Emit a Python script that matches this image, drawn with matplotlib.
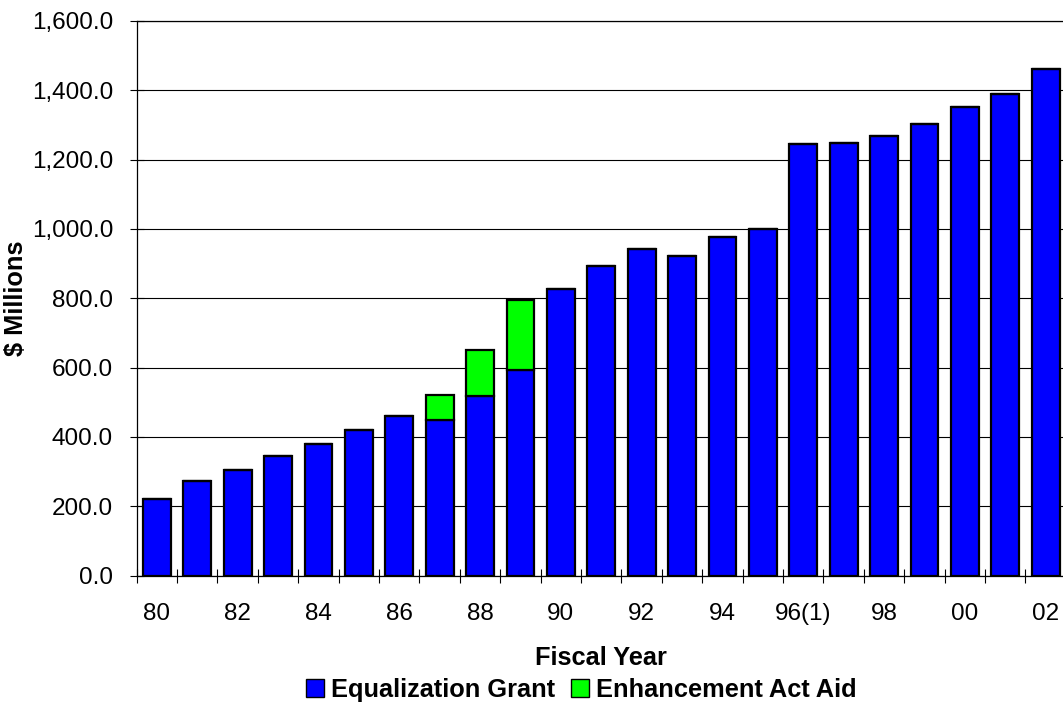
import numpy as np
import matplotlib
matplotlib.use("Agg")
import matplotlib.pyplot as plt
from matplotlib.patches import Patch
from matplotlib.ticker import FuncFormatter

plt.rcParams['font.family'] = ['Liberation Sans', 'DejaVu Sans']

years = ['80', '81', '82', '83', '84', '85', '86', '87', '88', '89', '90', '91',
         '92', '93', '94', '95', '96(1)', '97', '98', '99', '00', '01', '02']
equalization = [220, 273, 306, 344, 379, 421, 461, 450, 518, 593, 827, 893,
                943, 921, 976, 1000, 1245, 1249, 1267, 1302, 1353, 1390, 1462]
enhancement = [0, 0, 0, 0, 0, 0, 0, 71, 133, 203, 0, 0,
               0, 0, 0, 0, 0, 0, 0, 0, 0, 0, 0]

fs = 17.5
fsb = 18.3
fig = plt.figure(figsize=(10.63, 7.04), dpi=100)
ax = fig.add_axes([0.1286, 0.1823, 0.8741, 0.788])

x = np.arange(len(years))
w = 0.69
ax.bar(x, equalization, width=w, color='#0000FF', edgecolor='black', linewidth=1.6, zorder=3)
ax.bar(x, enhancement, width=w, bottom=equalization, color='#00FF00', edgecolor='black',
       linewidth=1.6, zorder=3)

ax.set_xlim(-0.5, len(years) - 0.5)
ax.set_ylim(0, 1600)
ax.set_yticks(np.arange(0, 1601, 200))
ax.yaxis.set_major_formatter(FuncFormatter(lambda v, p: f'{v:,.1f}'))
ax.grid(axis='y', color='black', linewidth=0.8, zorder=0)

# ticks at category boundaries, labels on every other category
ax.set_xticks(np.arange(-0.5, len(years), 1))
ax.set_xticklabels([])
ax.set_xticks(x[::2], minor=True)
ax.set_xticklabels(years[::2], minor=True)
ax.tick_params(axis='x', which='major', direction='inout', length=10, width=0.8)
ax.tick_params(axis='x', which='minor', length=0, pad=20, labelsize=fs)
ax.tick_params(axis='y', direction='inout', length=10, width=0.8, pad=12, labelsize=fs)

for s in ['left', 'bottom', 'top']:
    ax.spines[s].set_color('black')
    ax.spines[s].set_linewidth(0.9)
ax.spines['right'].set_visible(False)

ax.set_ylabel('$ Millions', fontsize=fsb, fontweight='bold')
ax.yaxis.set_label_coords(-0.117, 0.5)
ax.set_xlabel('Fiscal Year', fontsize=fsb, fontweight='bold', labelpad=15)

handles = [Patch(facecolor='#0000FF', edgecolor='black', label='Equalization Grant'),
           Patch(facecolor='#00FF00', edgecolor='black', label='Enhancement Act Aid')]
fig.legend(handles=handles, loc='center', bbox_to_anchor=(0.547, 0.02), ncol=2, frameon=False,
           prop={'size': fsb, 'weight': 'bold'}, handlelength=0.7, handleheight=0.7,
           handletextpad=0.3, columnspacing=0.6, borderpad=0)

fig.savefig('out.png', dpi=100)
